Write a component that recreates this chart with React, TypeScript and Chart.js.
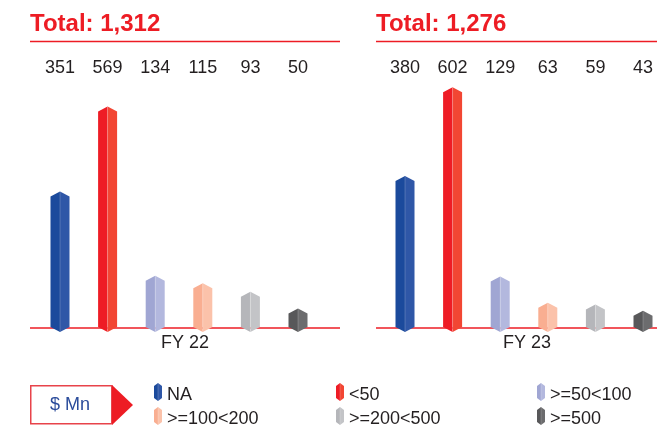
import React, { useEffect, useRef } from "react";
import { Chart, registerables } from "chart.js";

Chart.register(...registerables);

// ---- data ----
const categories = ["NA", "<50", ">=50<100", ">=100<200", ">=200<500", ">=500"];
const fy22Values = [351, 569, 134, 115, 93, 50];
const fy23Values = [380, 602, 129, 63, 59, 43];
const periodLabels = ["FY 22", "FY 23"];
const unitLabel = "$ Mn";

// ---- styles ----
const darkColors = ["#1b4a9c", "#ee1c25", "#a0a6d3", "#f9ae91", "#b5b6ba", "#58585a"];
const lightColors = ["#2f57a7", "#f24633", "#b3b8de", "#fbc2aa", "#c3c4c7", "#6c6c6e"];
const RED = "#ed1c24";
const TEXT = "#231f20";
const FONT = '"Liberation Sans", Arial, Helvetica, sans-serif';
const W = 657;
const H = 429;

type Panel = {
  values: number[];
  label: string;
  padLeft: number;
  padRight: number;
  padTop: number;
  padBottom: number;
  yMax: number;
  lineL: number;
  lineR: number;
  titleX: number;
  fyX: number;
  legend: boolean;
};

const panels: Panel[] = [
  {
    values: fy22Values,
    label: periodLabels[0],
    padLeft: 60,
    padRight: W - 298,
    padTop: 75,
    padBottom: H - 328,
    yMax: 650,
    lineL: 30,
    lineR: 340,
    titleX: 30,
    fyX: 185,
    legend: false,
  },
  {
    values: fy23Values,
    label: periodLabels[1],
    padLeft: 405,
    padRight: W - 643,
    padTop: 68,
    padBottom: H - 328,
    yMax: 650,
    lineL: 376,
    lineR: 657,
    titleX: 376,
    fyX: 527,
    legend: true,
  },
];

function drawHex(
  ctx: CanvasRenderingContext2D,
  x: number,
  top: number,
  bottom: number,
  w: number,
  tip: number,
  dark: string,
  light: string
) {
  const hw = w / 2;
  const shTop = Math.min(top + tip, bottom);
  ctx.beginPath();
  ctx.moveTo(x, top);
  ctx.lineTo(x - hw, shTop);
  ctx.lineTo(x - hw, bottom);
  ctx.lineTo(x, bottom + tip);
  ctx.closePath();
  ctx.fillStyle = dark;
  ctx.fill();
  ctx.beginPath();
  ctx.moveTo(x, top);
  ctx.lineTo(x + hw, shTop);
  ctx.lineTo(x + hw, bottom);
  ctx.lineTo(x, bottom + tip);
  ctx.closePath();
  ctx.fillStyle = light;
  ctx.fill();
  ctx.beginPath();
  ctx.moveTo(x, top + 0.5);
  ctx.lineTo(x, bottom + tip - 0.5);
  ctx.strokeStyle = "rgba(255,255,255,0.25)";
  ctx.lineWidth = 0.8;
  ctx.stroke();
}

function drawLegend(ctx: CanvasRenderingContext2D) {
  ctx.save();
  ctx.fillStyle = "#ffffff";
  ctx.fillRect(30, 385, 82, 39);
  ctx.strokeStyle = "#e8434a";
  ctx.lineWidth = 1.5;
  ctx.strokeRect(30.75, 385.75, 81, 38);
  ctx.beginPath();
  ctx.moveTo(112, 385);
  ctx.lineTo(133, 405);
  ctx.lineTo(112, 425);
  ctx.closePath();
  ctx.fillStyle = RED;
  ctx.fill();
  ctx.fillStyle = "#2b4c9b";
  ctx.font = `18px ${FONT}`;
  ctx.textAlign = "center";
  ctx.textBaseline = "middle";
  ctx.fillText(unitLabel, 70, 405);

  const colX = [154, 336, 537];
  const rowY = [383, 407];
  ctx.font = `18px ${FONT}`;
  ctx.textAlign = "left";
  categories.forEach((c, i) => {
    const col = i % 3;
    const row = Math.floor(i / 3);
    const ix = colX[col] + 4;
    const iy = rowY[row];
    drawHex(ctx, ix, iy, iy + 15, 8, 3, darkColors[i], lightColors[i]);
    ctx.fillStyle = TEXT;
    ctx.fillText(c, colX[col] + 13, iy + 12.5);
  });
  ctx.restore();
}

function makePlugin(p: Panel) {
  return {
    id: "hexPanel",
    beforeDatasetsDraw(chart: any) {
      const ctx: CanvasRenderingContext2D = chart.ctx;
      const y0 = chart.scales.y.getPixelForValue(0);
      ctx.save();
      ctx.strokeStyle = RED;
      ctx.lineWidth = 1.6;
      ctx.beginPath();
      ctx.moveTo(p.lineL, y0);
      ctx.lineTo(p.lineR, y0);
      ctx.stroke();
      ctx.restore();
    },
    afterDatasetsDraw(chart: any) {
      const ctx: CanvasRenderingContext2D = chart.ctx;
      const meta = chart.getDatasetMeta(0);
      ctx.save();
      meta.data.forEach((el: any, i: number) => {
        const { x, y, base, width } = el.getProps(["x", "y", "base", "width"], true);
        drawHex(ctx, x, y, base - 1, width, 5, darkColors[i], lightColors[i]);
      });
      ctx.fillStyle = TEXT;
      ctx.font = `18px ${FONT}`;
      ctx.textAlign = "center";
      ctx.textBaseline = "middle";
      meta.data.forEach((el: any, i: number) => {
        ctx.fillText(String(p.values[i]), el.x, 68);
      });
      const total = p.values.reduce((a, b) => a + b, 0);
      ctx.fillStyle = RED;
      ctx.font = `bold 24px ${FONT}`;
      ctx.textAlign = "left";
      ctx.textBaseline = "alphabetic";
      ctx.fillText(`Total: ${total.toLocaleString("en-US")}`, p.titleX, 31);
      ctx.strokeStyle = RED;
      ctx.lineWidth = 1.4;
      ctx.beginPath();
      ctx.moveTo(p.lineL, 41.5);
      ctx.lineTo(p.lineR, 41.5);
      ctx.stroke();
      ctx.fillStyle = TEXT;
      ctx.font = `18px ${FONT}`;
      ctx.textAlign = "center";
      ctx.textBaseline = "middle";
      ctx.fillText(p.label, p.fyX, 343);
      ctx.restore();
      if (p.legend) drawLegend(ctx);
    },
  };
}

function PanelChart({ panel }: { panel: Panel }) {
  const ref = useRef<HTMLCanvasElement | null>(null);
  useEffect(() => {
    if (!ref.current) return;
    const chart = new Chart(ref.current, {
      type: "bar",
      data: {
        labels: categories,
        datasets: [
          {
            data: panel.values,
            backgroundColor: "rgba(0,0,0,0)",
            barThickness: 19,
            clip: false as any,
          },
        ],
      },
      options: {
        responsive: false,
        animation: false,
        events: [],
        layout: {
          padding: {
            left: panel.padLeft,
            right: panel.padRight,
            top: panel.padTop,
            bottom: panel.padBottom,
          },
        },
        plugins: {
          legend: { display: false },
          tooltip: { enabled: false },
          title: { display: false },
        },
        scales: {
          x: { display: false, offset: false },
          y: { display: false, min: 0, max: panel.yMax },
        },
      },
      plugins: [makePlugin(panel)],
    });
    return () => chart.destroy();
  }, [panel]);
  return (
    <canvas
      ref={ref}
      width={W}
      height={H}
      style={{ position: "absolute", left: 0, top: 0, width: W, height: H }}
    />
  );
}

export default function App() {
  return (
    <div
      style={{
        position: "absolute",
        left: 0,
        top: 0,
        width: W,
        height: H,
        background: "#ffffff",
        overflow: "hidden",
      }}
    >
      {panels.map((p, i) => (
        <PanelChart key={i} panel={p} />
      ))}
    </div>
  );
}
